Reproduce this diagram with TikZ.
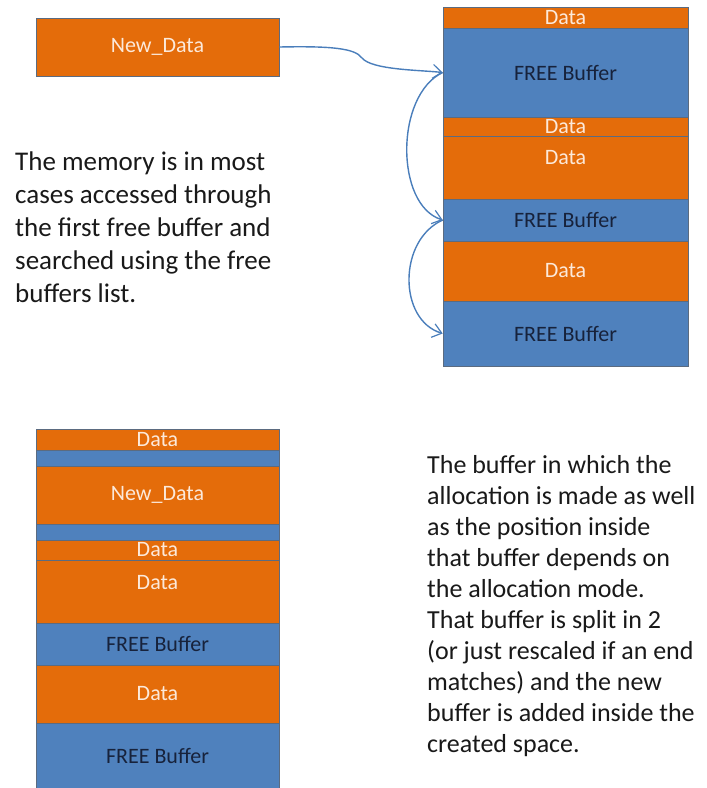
\documentclass[tikz,border=0pt]{standalone}
\usepackage{fontspec}
\setmainfont{Carlito}
\usetikzlibrary{arrows.meta}
\definecolor{borange}{HTML}{E46C0A}
\definecolor{bblue}{HTML}{4F81BD}
\definecolor{bline}{HTML}{5B6B80}
\definecolor{otext}{HTML}{FCE9DA}
\definecolor{btext}{HTML}{17223B}
\definecolor{arr}{HTML}{4A7EBB}
\begin{document}
\begin{tikzpicture}[x=1pt,y=-1pt,
  obox/.style={draw=bline,line width=0.6pt,fill=borange,inner sep=0pt,text=otext,font=\fontsize{22}{26}\selectfont},
  bbox/.style={draw=bline,line width=0.6pt,fill=bblue,inner sep=0pt,text=btext,font=\fontsize{22}{26}\selectfont},
  lbl/.style={inner sep=0pt,font=\fontsize{22}{26}\selectfont},
  para/.style={inner sep=0pt,align=left,anchor=north west,text=black!90},
  link/.style={draw=arr,line width=1.4pt,-{Straight Barb[length=9pt,width=14pt,line width=1.2pt]}}
]
\useasboundingbox (0,0) rectangle (707,788);
% top New_Data
\node[obox,minimum width=243pt,minimum height=58pt] (nd) at (157.5,47) {New\_Data};
% top-right stack (x 443..688)
\def\R#1#2#3#4#5{\node[#1,minimum width=245pt,minimum height=#3-#2] (#4) at (565.5,{(#2+#3)/2}) {#5};}
\R{obox}{7}{28}{r1}{Data}
\R{bbox}{28}{117}{r2}{FREE Buffer}
\R{obox}{117}{136}{r3}{Data}
\R{obox}{136}{199}{r4}{}
\node[lbl,text=otext] (r4t) at (565.5,158) {Data};
\R{bbox}{199}{241}{r5}{FREE Buffer}
\R{obox}{241}{301}{r6}{Data}
\R{bbox}{301}{366}{r7}{FREE Buffer}
% bottom-left stack (x 36..279)
\def\L#1#2#3#4#5{\node[#1,minimum width=243pt,minimum height=#3-#2] (#4) at (157.5,{(#2+#3)/2}) {#5};}
\L{obox}{429}{450}{l1}{Data}
\L{bbox}{450}{466}{l2}{}
\L{obox}{466}{524}{l3}{New\_Data}
\L{bbox}{524}{540}{l4}{}
\L{obox}{540}{560}{l5}{Data}
\L{obox}{560}{623}{l6}{}
\node[lbl,text=otext] (l6t) at (157.5,583) {Data};
\L{bbox}{623}{665}{l7}{FREE Buffer}
\L{obox}{665}{723}{l8}{Data}
\L{bbox}{723}{788}{l9}{FREE Buffer}
% connectors
\coordinate (a1) at (r2.west);
\coordinate (a2) at (r5.west);
\coordinate (a3) at (r7.west);
\draw[link] (nd.east) .. controls (330,46) and (355,48) .. (362,58) .. controls (372,70) and (420,70) .. (a1);
\draw[link] (a1) .. controls (395,95) and (395,205) .. (a2);
\draw[link] (a2) .. controls (398,240) and (398,320) .. (a3);
% texts
\node[para,font=\fontsize{27}{33}\selectfont] (t1) at (15,152) {The memory is in most\\cases accessed through\\the first free buffer and\\searched using the free\\buffers list.};
\node[para,font=\fontsize{26}{31}\selectfont] (t2) at (427,455) {The buffer in which the\\allocation is made as well\\as the position inside\\that buffer depends on\\the allocation mode.\\That buffer is split in 2\\(or just rescaled if an end\\matches) and the new\\buffer is added inside the\\created space.};
\end{tikzpicture}
\end{document}
